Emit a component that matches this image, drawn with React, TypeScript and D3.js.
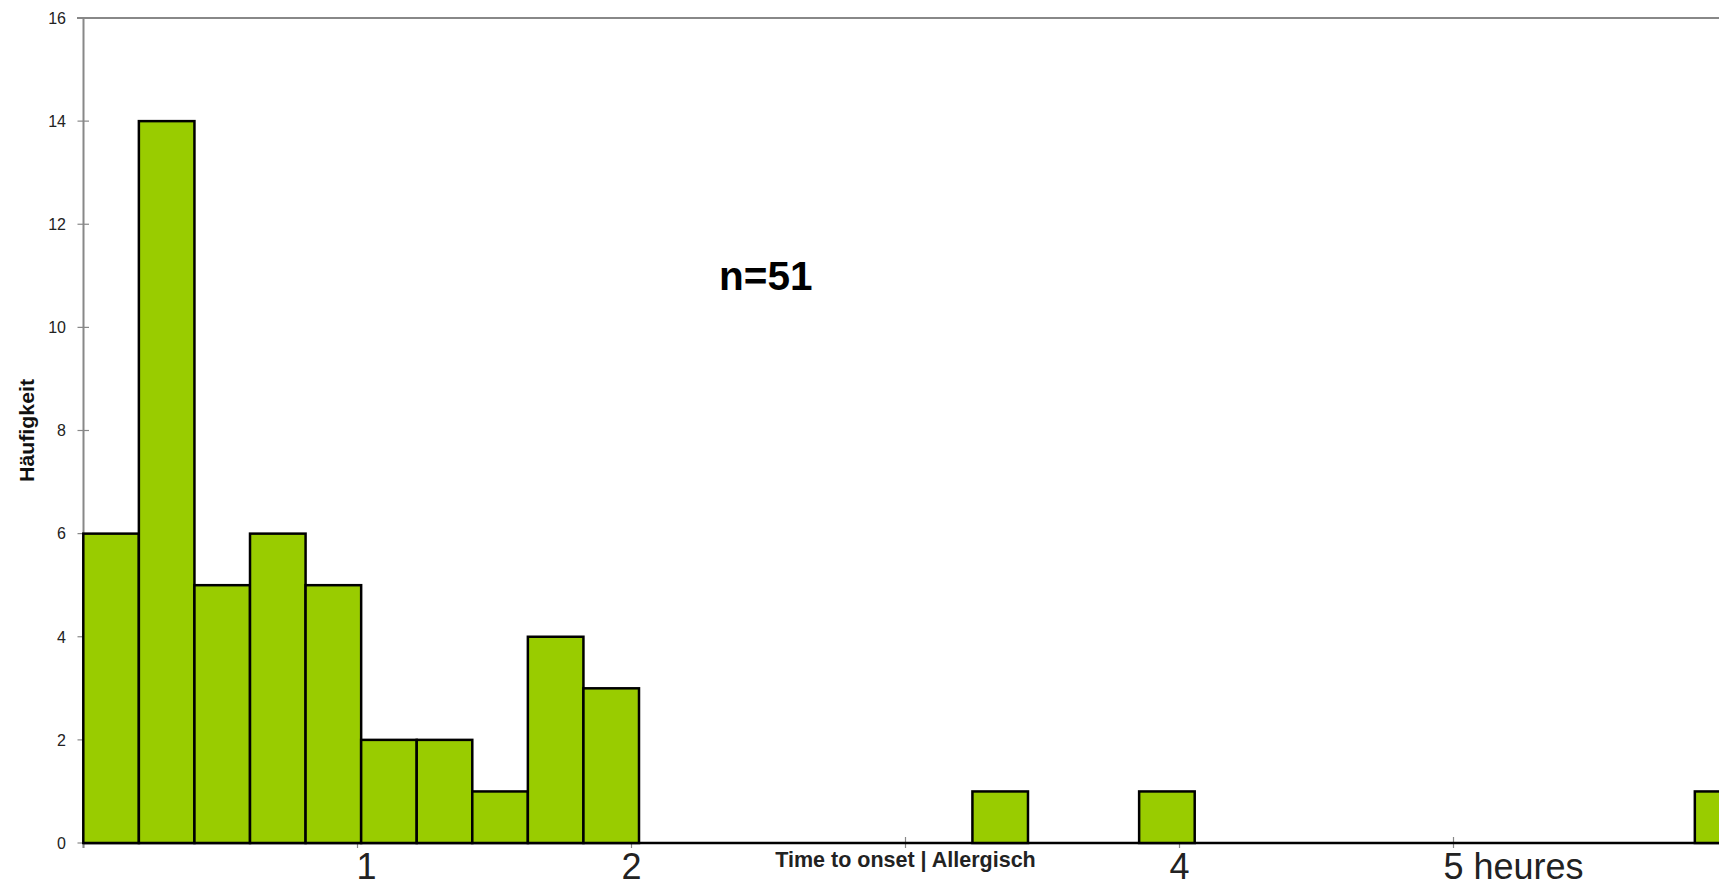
import React from "react";
import * as d3 from "d3";

// Histogram bins (12-minute bins, index from 0) and their counts
const binIndex = [0, 1, 2, 3, 4, 5, 6, 7, 8, 9, 16, 19, 29];
const binCount = [6, 14, 5, 6, 5, 2, 2, 1, 4, 3, 1, 1, 1];
const yTicks = [0, 2, 4, 6, 8, 10, 12, 14, 16];
const hourTicks = [0, 1, 2, 3, 4, 5];
const hourLabels = ["", "1", "2", "", "4", "5 heures"];
const title = "n=51";
const xTitle = "Time to onset | Allergisch";
const yTitle = "Häufigkeit";

const W = 1719;
const H = 885;
const FONT = "'Liberation Sans', Arial, Helvetica, sans-serif";

export default function App() {
  const left = 83.5;
  const top = 18;
  const bottom = 843;
  const y = d3.scaleLinear().domain([0, 16]).range([bottom, top]);
  const xHours = d3.scaleLinear().domain([0, 6]).range([left, left + 6 * 274]);
  const xBin = d3.scaleLinear().domain([0, 30]).range([83.3, 83.3 + 30 * 55.57]);

  const labelX = (h: number, s: string) => {
    if (s.length > 1) return xHours(h) - 10;
    if (s === "1") return xHours(h) + 9;
    return xHours(h);
  };

  return (
    <div style={{ position: "absolute", left: 0, top: 0 }}>
      <svg width={W} height={H} style={{ display: "block", background: "#fff" }}>
        {/* top border */}
        <line x1={77} x2={W} y1={top} y2={top} stroke="#888" strokeWidth={2} />
        {/* y axis */}
        <line x1={left} x2={left} y1={top} y2={bottom + 5} stroke="#888" strokeWidth={2} />
        {yTicks.map((t) => (
          <g key={t}>
            <line x1={77.5} x2={t === 16 ? left : 89} y1={y(t)} y2={y(t)} stroke="#888" strokeWidth={1.2} />
            <text x={66} y={y(t)} dy="0.36em" textAnchor="end" fontFamily={FONT} fontSize={16} fill="#222">
              {t}
            </text>
          </g>
        ))}
        {/* x ticks */}
        {hourTicks.map((h) => (
          <line key={h} x1={xHours(h)} x2={xHours(h)} y1={bottom - 6} y2={bottom + 5} stroke="#888" strokeWidth={1.2} />
        ))}
        {/* x axis line */}
        <line x1={left} x2={W} y1={bottom} y2={bottom} stroke="#000" strokeWidth={2.5} />
        {/* bars */}
        {binIndex.map((b, i) => (
          <rect
            key={b}
            x={xBin(b)}
            y={y(binCount[i])}
            width={xBin(b + 1) - xBin(b)}
            height={bottom - y(binCount[i])}
            fill="#99CC00"
            stroke="#000"
            strokeWidth={2.5}
          />
        ))}
        {/* hour labels */}
        {hourTicks.map((h, i) =>
          hourLabels[i] === "" ? null : (
            <text
              key={h}
              x={labelX(h, hourLabels[i])}
              y={879}
              textAnchor={hourLabels[i].length > 1 ? "start" : "middle"}
              fontFamily={FONT}
              fontSize={36}
              fill="#222"
            >
              {hourLabels[i]}
            </text>
          )
        )}
        {/* x title */}
        <text x={xHours(3)} y={867} textAnchor="middle" fontFamily={FONT} fontSize={21.5} fontWeight="bold" fill="#222">
          {xTitle}
        </text>
        {/* y title */}
        <text
          transform={`translate(34,${(top + bottom) / 2}) rotate(-90)`}
          textAnchor="middle"
          fontFamily={FONT}
          fontSize={19.5}
          fontWeight="bold"
          fill="#111"
          textLength={103}
          lengthAdjust="spacingAndGlyphs"
        >
          {yTitle}
        </text>
        {/* annotation */}
        <text x={719} y={290} fontFamily={FONT} fontSize={40.5} fontWeight="bold" fill="#000">
          {title}
        </text>
      </svg>
    </div>
  );
}
